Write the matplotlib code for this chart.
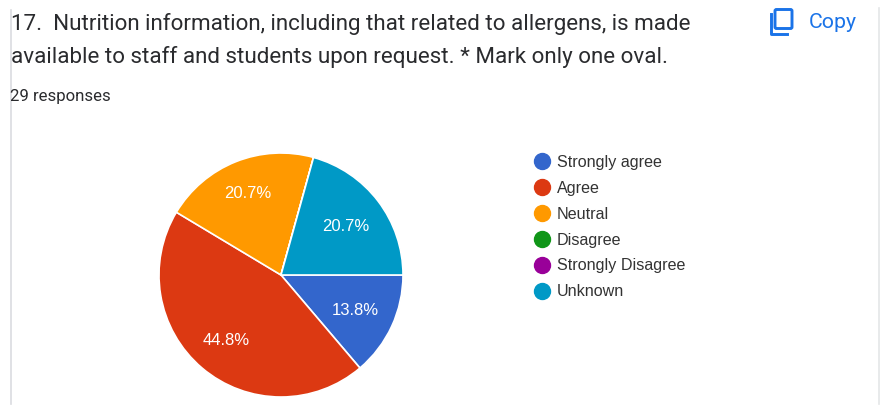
import math

import matplotlib
matplotlib.use("Agg")
import matplotlib.pyplot as plt
from matplotlib.lines import Line2D
from matplotlib.patches import FancyBboxPatch

plt.rcParams["font.family"] = ["Roboto", "DejaVu Sans"]

# DATA
categories = ["Strongly agree", "Agree", "Neutral", "Disagree", "Strongly Disagree", "Unknown"]
shares = [13.8, 44.8, 20.7, 0, 0, 20.7]
colors = ["#3366CC", "#DC3912", "#FF9900", "#109618", "#990099", "#0099C6"]
title_lines = ["17.  Nutrition information, including that related to allergens, is made",
               "available to staff and students upon request. * Mark only one oval."]
subtitle = "29 responses"

W, H = 880, 408
BLUE = "#1A73E8"
# how far out each slice label sits, px from the centre
label_radius = [82, 84, 89, 0, 0, 81]

fig = plt.figure(figsize=(W / 100, H / 100), dpi=100)

# page layer in pixel coordinates, y going down like the screenshot
bg = fig.add_axes([0, 0, 1, 1])
bg.set_xlim(0, W)
bg.set_ylim(H, 0)
bg.axis("off")

# card border
bg.plot([11, 11], [10, 404], color="#DADCE0", lw=1.2)
bg.plot([879, 879], [8, 404], color="#E4E6E8", lw=1.2)

bg.text(11, 24, title_lines[0], fontsize=16.1, color="#2A2B2E", va="center", ha="left")
bg.text(11, 57, title_lines[1], fontsize=16.1, color="#2A2B2E", va="center", ha="left")
bg.text(10, 96, subtitle, fontsize=12.1, color="#2A2B2E", va="center", ha="left")

# copy button
bg.add_patch(FancyBboxPatch((775, 9.5), 17, 19, boxstyle="round,pad=0,rounding_size=1.5",
                            fill=False, ec=BLUE, lw=2.1))
bg.plot([770.5, 770.5, 787], [14, 34, 34], color=BLUE, lw=2.1, solid_joinstyle="round")
bg.text(809, 23, "Copy", fontsize=15.3, color=BLUE, va="center", ha="left")

# pie, centre (281, 275) radius 122 px
R, CX, CY = 122, 281, 275
ax = fig.add_axes([(CX - R) / W, 1 - (CY + R) / H, 2 * R / W, 2 * R / H])
wedges, _ = ax.pie(shares, colors=colors, startangle=0, counterclock=False, radius=1,
                   wedgeprops=dict(edgecolor="white", linewidth=1.2))
ax.set_xlim(-1, 1)
ax.set_ylim(-1, 1)

# slice labels
angle = 0
for val, lr in zip(shares, label_radius):
    mid = angle + val / 2
    angle += val
    if val == 0:
        continue
    theta = math.radians(-mid * 3.6)
    ax.text(lr / R * math.cos(theta), lr / R * math.sin(theta) - 1 / R, f"{val}%", color="white",
            fontsize=12, family=["Liberation Sans", "DejaVu Sans"], ha="center", va="center")

# legend
handles = [Line2D([], [], marker="o", linestyle="none", markersize=11.5,
                  markerfacecolor=c, markeredgecolor=c) for c in colors]
leg = fig.legend(handles, categories, loc="upper left", bbox_to_anchor=(531.5 / W, 1 - 155 / H),
                 bbox_transform=fig.transFigure, frameon=False, ncol=1, borderpad=0, borderaxespad=0,
                 labelspacing=0.67, handletextpad=0.28, handlelength=1.3,
                 prop={"family": ["Liberation Sans", "DejaVu Sans"], "size": 11.65})
for t in leg.get_texts():
    t.set_color("#333333")

fig.savefig("out.png", dpi=100)
